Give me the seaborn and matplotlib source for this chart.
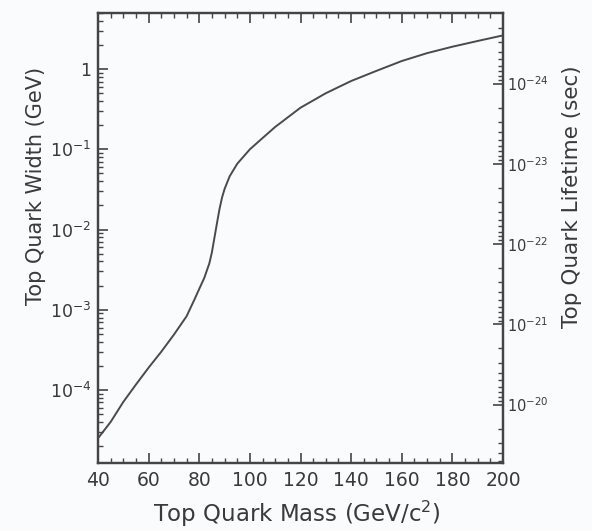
import numpy as np
import pandas as pd
import matplotlib
matplotlib.use("Agg")
import matplotlib.pyplot as plt
import matplotlib.ticker as mticker
import seaborn as sns

# ---- data ----
mass = [40, 45, 50, 55, 60, 65, 70, 75, 78, 80, 82, 84, 85, 86, 87, 88, 89, 90,
        92, 95, 100, 105, 110, 120, 130, 140, 150, 160, 170, 180, 190, 200]
width = [2.5e-5, 4.0e-5, 7.1e-5, 1.17e-4, 1.9e-4, 3.0e-4, 4.9e-4, 8.3e-4,
         1.32e-3, 1.82e-3, 2.5e-3, 3.8e-3, 5.2e-3, 7.9e-3, 1.2e-2, 1.8e-2,
         2.5e-2, 3.2e-2, 4.6e-2, 6.6e-2, 0.10, 0.138, 0.19, 0.33, 0.50, 0.71,
         0.95, 1.26, 1.58, 1.90, 2.24, 2.63]
x_ticks = [40, 60, 80, 100, 120, 140, 160, 180, 200]
y_ticks = [1e-4, 1e-3, 1e-2, 1e-1, 1]
y_tick_labels = ["$10^{-4}$", "$10^{-3}$", "$10^{-2}$", "$10^{-1}$", "1"]
life_ticks = [1e-20, 1e-21, 1e-22, 1e-23, 1e-24]
life_tick_labels = ["$10^{-20}$", "$10^{-21}$", "$10^{-22}$", "$10^{-23}$", "$10^{-24}$"]
HBAR = 6.582e-25  # GeV s
Y_LIM = (1.23e-5, 5.0)

df = pd.DataFrame({"mass": mass, "width": width})

sns.set_style("ticks")
plt.rcParams["font.family"] = ["DejaVu Sans"]
plt.rcParams["mathtext.fontset"] = "dejavusans"

fig = plt.figure(figsize=(5.92, 5.31), dpi=100)
bg = "#fafbfd"
fig.patch.set_facecolor(bg)
ax = fig.add_axes([98 / 592, 1 - 463 / 531, (503 - 98) / 592, (463 - 13) / 531])
ax.set_facecolor(bg)

sns.lineplot(data=df, x="mass", y="width", ax=ax, color="#4a4a4a", linewidth=1.4)
ax.set_yscale("log")
ax.set_xlim(40, 200)
ax.set_ylim(*Y_LIM)

ax.set_xticks(x_ticks)
ax.set_xticklabels([str(v) for v in x_ticks])
ax.xaxis.set_minor_locator(mticker.MultipleLocator(5))
ax.set_yticks(y_ticks)
ax.set_yticklabels(y_tick_labels)
ax.yaxis.set_minor_locator(mticker.LogLocator(base=10, subs=np.arange(2, 10)))
ax.yaxis.set_minor_formatter(mticker.NullFormatter())

ax.tick_params(which="both", direction="in", top=True, right=False,
               color="#444444", labelcolor="#3a3a3a")
ax.tick_params(which="major", length=7, width=1.2)
ax.tick_params(which="minor", length=3.5, width=1.0)
ax.tick_params(axis="x", labelsize=13.5, pad=6)
ax.tick_params(axis="y", labelsize=12.5, pad=5)

for s in ax.spines.values():
    s.set_linewidth(1.6)
    s.set_color("#444444")
    s.set_visible(True)

ax.set_xlabel("Top Quark Mass (GeV/c$^2$)", fontsize=16.5, color="#3a3a3a")
ax.xaxis.set_label_coords(0.49, -0.08)
ax.set_ylabel("Top Quark Width (GeV)", fontsize=15, color="#3a3a3a")
ax.yaxis.set_label_coords(-0.128, 0.615)

# right axis: lifetime = hbar / width (inverted log axis)
ax2 = ax.twinx()
ax2.set_yscale("log")
ax2.set_ylim(HBAR / Y_LIM[0], HBAR / Y_LIM[1])
ax2.set_yticks(life_ticks)
ax2.set_yticklabels(life_tick_labels)
ax2.yaxis.set_minor_locator(mticker.LogLocator(base=10, subs=np.arange(2, 10)))
ax2.yaxis.set_minor_formatter(mticker.NullFormatter())
ax2.tick_params(which="both", direction="in", color="#444444", labelcolor="#3a3a3a")
ax2.tick_params(which="major", length=7, width=1.2, labelsize=10.5, pad=3)
ax2.tick_params(which="minor", length=3.5, width=1.0)
for s in ax2.spines.values():
    s.set_linewidth(1.6)
    s.set_color("#444444")
ax2.set_ylabel("Top Quark Lifetime (sec)", fontsize=15.5, color="#3a3a3a")
ax2.yaxis.set_label_coords(1.145, 0.591)

fig.savefig("out.png", dpi=100, facecolor=bg)
